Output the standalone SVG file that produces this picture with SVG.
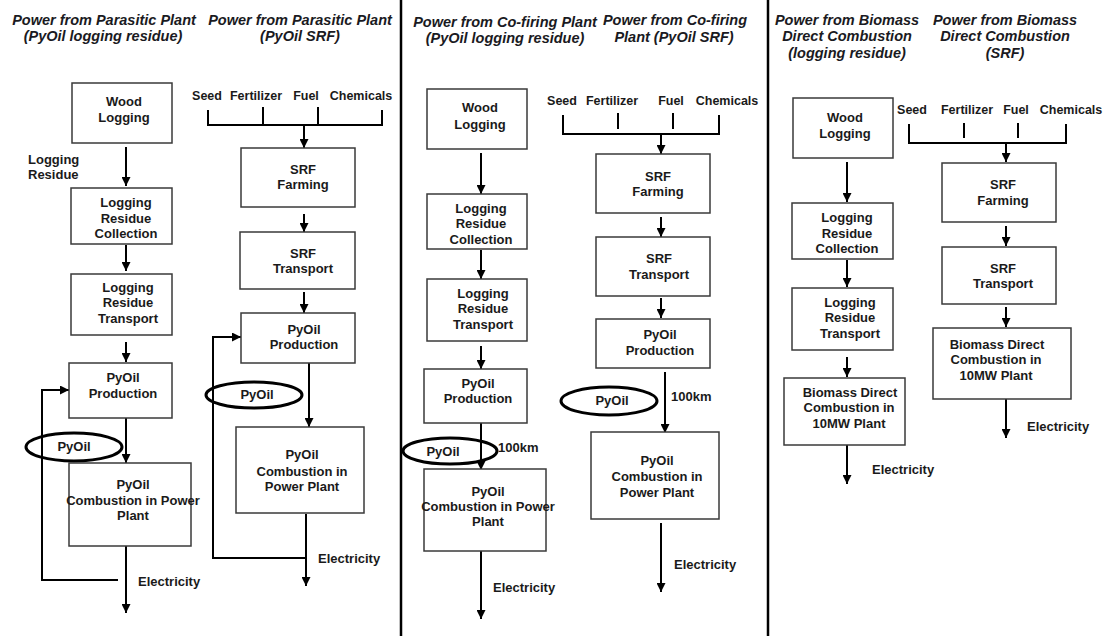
<svg xmlns="http://www.w3.org/2000/svg" width="1104" height="636" viewBox="0 0 1104 636">
<style>
.box{fill:#fff;stroke:#3a3a3a;stroke-width:1.5}
.t{font-family:"Liberation Sans",Arial,sans-serif;font-weight:bold;font-size:13px;fill:#1a1a1a;text-anchor:middle}
.in{font-size:12.5px}
.lft{text-anchor:start}
.ttl{font-style:italic;font-size:14.5px;fill:#1a1a22}
.ln{stroke:#000;stroke-width:2;fill:none}
.arr{marker-end:url(#ah)}
.ell{fill:none;stroke:#000;stroke-width:3}
.div{stroke:#000;stroke-width:2.5}
</style>
<defs>
<marker id="ah" markerUnits="userSpaceOnUse" markerWidth="9" markerHeight="9" refX="9" refY="4.5" orient="auto"><path d="M0,0 L9,4.5 L0,9 z" fill="#000"/></marker>
</defs>
<rect width="1104" height="636" fill="#fff"/>
<line class="div" x1="401" y1="0" x2="401" y2="636"/>
<line class="div" x1="768" y1="0" x2="768" y2="636"/>

<g id="titles">
<text class="t ttl" x="104" y="25">Power from Parasitic Plant</text>
<text class="t ttl" x="103" y="41">(PyOil logging residue)</text>
<text class="t ttl" x="300" y="25">Power from Parasitic Plant</text>
<text class="t ttl" x="300" y="41">(PyOil SRF)</text>
<text class="t ttl" x="505" y="27">Power from Co-firing Plant</text>
<text class="t ttl" x="505" y="43">(PyOil logging residue)</text>
<text class="t ttl" x="675" y="25">Power from Co-firing</text>
<text class="t ttl" x="674" y="42">Plant (PyOil SRF)</text>
<text class="t ttl" x="847" y="25">Power from Biomass</text>
<text class="t ttl" x="847" y="41">Direct Combustion</text>
<text class="t ttl" x="847" y="58">(logging residue)</text>
<text class="t ttl" x="1005" y="25">Power from Biomass</text>
<text class="t ttl" x="1005" y="41">Direct Combustion</text>
<text class="t ttl" x="1005" y="58">(SRF)</text>
</g>

<g id="connectors">
<!-- panel 1 -->
<line class="ln arr" x1="126" y1="147" x2="126" y2="186"/>
<line class="ln arr" x1="126" y1="245" x2="126" y2="271"/>
<line class="ln arr" x1="126" y1="342" x2="126" y2="362"/>
<line class="ln arr" x1="126" y1="418" x2="126" y2="463"/>
<line class="ln arr" x1="126" y1="546" x2="126" y2="613"/>
<path class="ln arr" d="M118,580 H42 V390 H69"/>
<!-- panel 2 -->
<path class="ln" d="M208,110 V125 H382 V110 M263,107 V125 M318,107 V125"/>
<line class="ln arr" x1="304" y1="126" x2="304" y2="148"/>
<line class="ln arr" x1="304" y1="214" x2="304" y2="232"/>
<line class="ln arr" x1="304" y1="292" x2="304" y2="313"/>
<line class="ln arr" x1="309" y1="363" x2="309" y2="427"/>
<line class="ln arr" x1="306" y1="514" x2="306" y2="586"/>
<path class="ln arr" d="M306,558 H213 V337 H241"/>
<!-- panel 3 -->
<line class="ln arr" x1="481" y1="153" x2="481" y2="194"/>
<line class="ln arr" x1="481" y1="250" x2="481" y2="279"/>
<line class="ln arr" x1="481" y1="346" x2="481" y2="369"/>
<line class="ln arr" x1="481" y1="423" x2="481" y2="470"/>
<line class="ln arr" x1="481" y1="551" x2="481" y2="619"/>
<!-- panel 4 -->
<path class="ln" d="M563,115 V134 H719 V115 M618,113 V129 M673,113 V129"/>
<line class="ln arr" x1="661" y1="134" x2="661" y2="154"/>
<line class="ln arr" x1="661" y1="217" x2="661" y2="237"/>
<line class="ln arr" x1="661" y1="298" x2="661" y2="318"/>
<line class="ln arr" x1="665" y1="372" x2="665" y2="433"/>
<line class="ln arr" x1="661" y1="523" x2="661" y2="592"/>
<!-- panel 5 -->
<line class="ln arr" x1="847" y1="162" x2="847" y2="202"/>
<line class="ln arr" x1="847" y1="260" x2="847" y2="287"/>
<line class="ln arr" x1="847" y1="357" x2="847" y2="377"/>
<line class="ln arr" x1="847" y1="445" x2="847" y2="484"/>
<!-- panel 6 -->
<path class="ln" d="M909,124 V143 H1066 V124 M964,123 V138 M1018,123 V138"/>
<line class="ln arr" x1="1006" y1="143" x2="1006" y2="162"/>
<line class="ln arr" x1="1006" y1="226" x2="1006" y2="246"/>
<line class="ln arr" x1="1006" y1="307" x2="1006" y2="327"/>
<line class="ln arr" x1="1006" y1="399" x2="1006" y2="438"/>
</g>

<!-- panel 1 nodes -->
<g id="p1_wood"><rect class="box" x="72" y="83" width="100" height="60"/>
<text class="t" x="124" y="106">Wood</text><text class="t" x="124" y="122">Logging</text></g>
<g id="p1_residue_label"><text class="t lft" x="28" y="164">Logging</text><text class="t lft" x="28" y="179">Residue</text></g>
<g id="p1_collection"><rect class="box" x="71" y="188" width="101" height="56"/>
<text class="t" x="126" y="207">Logging</text><text class="t" x="126" y="223">Residue</text><text class="t" x="126" y="238">Collection</text></g>
<g id="p1_transport"><rect class="box" x="71" y="274" width="101" height="61"/>
<text class="t" x="128" y="292">Logging</text><text class="t" x="128" y="307">Residue</text><text class="t" x="128" y="323">Transport</text></g>
<g id="p1_production"><rect class="box" x="69" y="363" width="103" height="55"/>
<text class="t" x="123" y="382">PyOil</text><text class="t" x="123" y="398">Production</text></g>
<g id="p1_pyoil"><ellipse class="ell" cx="74" cy="447" rx="48" ry="14"/>
<text class="t" x="74" y="451">PyOil</text></g>
<g id="p1_combustion"><rect class="box" x="69" y="463" width="122" height="83"/>
<text class="t" x="133" y="489">PyOil</text><text class="t" x="133" y="505">Combustion in Power</text><text class="t" x="133" y="520">Plant</text></g>
<g id="p1_elec"><text class="t lft" x="138" y="586">Electricity</text></g>

<!-- panel 2 nodes -->
<g id="p2_inputs"><text class="t in" x="207" y="100">Seed</text><text class="t in" x="256" y="100">Fertilizer</text><text class="t in" x="306" y="100">Fuel</text><text class="t in" x="361" y="100">Chemicals</text></g>
<g id="p2_farming"><rect class="box" x="241" y="148" width="114" height="59"/>
<text class="t" x="303" y="174">SRF</text><text class="t" x="303" y="189">Farming</text></g>
<g id="p2_transport"><rect class="box" x="240" y="232" width="115" height="57"/>
<text class="t" x="303" y="258">SRF</text><text class="t" x="303" y="273">Transport</text></g>
<g id="p2_production"><rect class="box" x="241" y="313" width="114" height="50"/>
<text class="t" x="304" y="334">PyOil</text><text class="t" x="304" y="349">Production</text></g>
<g id="p2_pyoil"><ellipse class="ell" cx="254" cy="395" rx="48" ry="13"/>
<text class="t" x="257" y="399">PyOil</text></g>
<g id="p2_combustion"><rect class="box" x="236" y="427" width="128" height="86"/>
<text class="t" x="302" y="459">PyOil</text><text class="t" x="302" y="476">Combustion in</text><text class="t" x="302" y="491">Power Plant</text></g>
<g id="p2_elec"><text class="t lft" x="318" y="563">Electricity</text></g>

<!-- panel 3 nodes -->
<g id="p3_wood"><rect class="box" x="427" y="89" width="100" height="60"/>
<text class="t" x="480" y="112">Wood</text><text class="t" x="480" y="129">Logging</text></g>
<g id="p3_collection"><rect class="box" x="427" y="194" width="100" height="55"/>
<text class="t" x="481" y="213">Logging</text><text class="t" x="481" y="228">Residue</text><text class="t" x="481" y="244">Collection</text></g>
<g id="p3_transport"><rect class="box" x="427" y="279" width="100" height="62"/>
<text class="t" x="483" y="298">Logging</text><text class="t" x="483" y="313">Residue</text><text class="t" x="483" y="329">Transport</text></g>
<g id="p3_production"><rect class="box" x="424" y="369" width="103" height="54"/>
<text class="t" x="478" y="388">PyOil</text><text class="t" x="478" y="403">Production</text></g>
<g id="p3_pyoil"><ellipse class="ell" cx="450" cy="451" rx="47" ry="13"/>
<text class="t" x="443" y="456">PyOil</text></g>
<g id="p3_100km"><text class="t lft" x="498" y="452">100km</text></g>
<g id="p3_combustion"><rect class="box" x="424" y="469" width="122" height="82"/>
<text class="t" x="488" y="496">PyOil</text><text class="t" x="488" y="511">Combustion in Power</text><text class="t" x="488" y="526">Plant</text></g>
<g id="p3_elec"><text class="t lft" x="493" y="592">Electricity</text></g>

<!-- panel 4 nodes -->
<g id="p4_inputs"><text class="t in" x="562" y="105">Seed</text><text class="t in" x="612" y="105">Fertilizer</text><text class="t in" x="671" y="105">Fuel</text><text class="t in" x="727" y="105">Chemicals</text></g>
<g id="p4_farming"><rect class="box" x="596" y="154" width="114" height="59"/>
<text class="t" x="658" y="181">SRF</text><text class="t" x="658" y="196">Farming</text></g>
<g id="p4_transport"><rect class="box" x="596" y="237" width="114" height="59"/>
<text class="t" x="659" y="263">SRF</text><text class="t" x="659" y="279">Transport</text></g>
<g id="p4_production"><rect class="box" x="596" y="319" width="114" height="49"/>
<text class="t" x="660" y="339">PyOil</text><text class="t" x="660" y="355">Production</text></g>
<g id="p4_pyoil"><ellipse class="ell" cx="609" cy="401" rx="48" ry="14"/>
<text class="t" x="612" y="405">PyOil</text></g>
<g id="p4_100km"><text class="t lft" x="671" y="401">100km</text></g>
<g id="p4_combustion"><rect class="box" x="591" y="432" width="128" height="87"/>
<text class="t" x="657" y="465">PyOil</text><text class="t" x="657" y="481">Combustion in</text><text class="t" x="657" y="497">Power Plant</text></g>
<g id="p4_elec"><text class="t lft" x="674" y="569">Electricity</text></g>

<!-- panel 5 nodes -->
<g id="p5_wood"><rect class="box" x="793" y="98" width="100" height="60"/>
<text class="t" x="845" y="122">Wood</text><text class="t" x="845" y="138">Logging</text></g>
<g id="p5_collection"><rect class="box" x="792" y="203" width="101" height="56"/>
<text class="t" x="847" y="222">Logging</text><text class="t" x="847" y="238">Residue</text><text class="t" x="847" y="253">Collection</text></g>
<g id="p5_transport"><rect class="box" x="792" y="288" width="101" height="62"/>
<text class="t" x="850" y="307">Logging</text><text class="t" x="850" y="322">Residue</text><text class="t" x="850" y="338">Transport</text></g>
<g id="p5_combustion"><rect class="box" x="784" y="378" width="121" height="67"/>
<text class="t" x="850" y="397">Biomass Direct</text><text class="t" x="849" y="412">Combustion in</text><text class="t" x="849" y="428">10MW Plant</text></g>
<g id="p5_elec"><text class="t lft" x="872" y="474">Electricity</text></g>

<!-- panel 6 nodes -->
<g id="p6_inputs"><text class="t in" x="912" y="114">Seed</text><text class="t in" x="967" y="114">Fertilizer</text><text class="t in" x="1016" y="114">Fuel</text><text class="t in" x="1071" y="114">Chemicals</text></g>
<g id="p6_farming"><rect class="box" x="942" y="163" width="114" height="59"/>
<text class="t" x="1003" y="189">SRF</text><text class="t" x="1003" y="205">Farming</text></g>
<g id="p6_transport"><rect class="box" x="942" y="247" width="114" height="57"/>
<text class="t" x="1003" y="273">SRF</text><text class="t" x="1003" y="288">Transport</text></g>
<g id="p6_combustion"><rect class="box" x="933" y="328" width="138" height="71"/>
<text class="t" x="997" y="349">Biomass Direct</text><text class="t" x="996" y="364">Combustion in</text><text class="t" x="996" y="380">10MW Plant</text></g>
<g id="p6_elec"><text class="t lft" x="1027" y="431">Electricity</text></g>
</svg>
